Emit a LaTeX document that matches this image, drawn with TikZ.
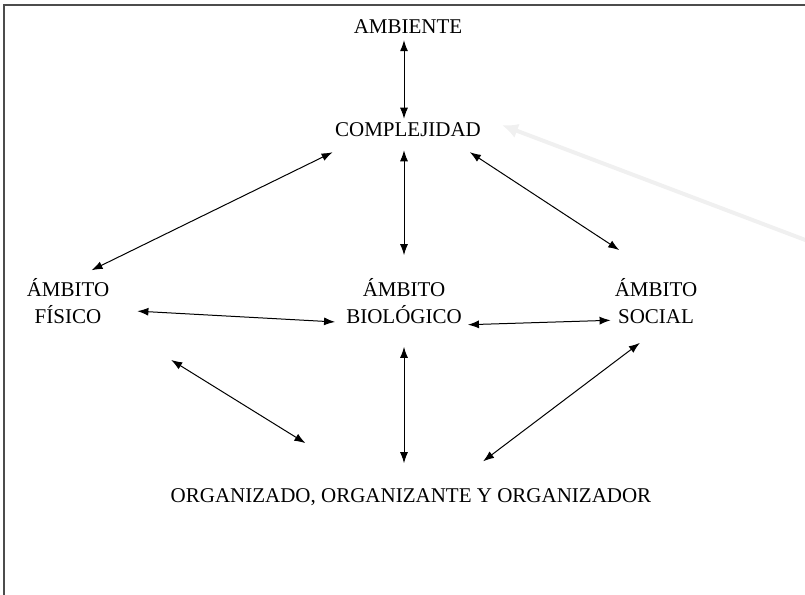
\documentclass[tikz,border=0pt]{standalone}
\usepackage{fontspec}
\setmainfont{Liberation Serif}
\usetikzlibrary{arrows.meta}
\begin{document}
\begin{tikzpicture}[x=1pt, y=-1pt,
        concept/.style={font=\fontsize{21}{27}\selectfont, align=center, inner sep=4pt},
        link/.style={{Latex[length=11pt,width=8pt]}-{Latex[length=11pt,width=8pt]}, line width=1pt},
        hint/.style={-{Latex[length=16pt,width=15pt]}, line width=4pt, black!6},
    ]
    \useasboundingbox (0,0) rectangle (805,594);
    \draw[line width=2pt, black!70] (4,600) -- (4,5) -- (812,5);

    \node[concept] (amb) at (408,27) {AMBIENTE};
    \node[concept] (comp) at (408,130) {COMPLEJIDAD};
    \node[concept] (fis) at (68,301) {ÁMBITO\\FÍSICO};
    \node[concept] (bio) at (404,301) {ÁMBITO\\BIOLÓGICO};
    \node[concept] (soc) at (656,301) {ÁMBITO\\SOCIAL};
    \node[concept] (org) at (411,497) {ORGANIZADO, ORGANIZANTE Y ORGANIZADOR};
    \coordinate (edge) at (808,241);

    % light arrow coming from the right margin
    \draw[hint, shorten >=18pt] (edge) -- (comp.north east);

    \draw[link, shorten <=2pt] (bio.north |- amb.south) -- (bio.north |- comp.north);
    \draw[link, shorten <=25pt, shorten >=9pt] (comp.192) -- (fis.60);
    \draw[link, shorten <=9pt, shorten >=19pt] (bio.north |- comp.south) -- (bio.north);
    \draw[link, shorten <=20pt, shorten >=44pt] (comp.-14) -- (soc.north);

    \draw[link, shorten <=24pt, shorten >=7pt] (fis.-11) -- (bio.199);
    \draw[link, shorten <=2pt] (bio.-21) -- (soc.203);

    \draw[link, shorten <=68pt, shorten >=78pt] (fis.-27) -- (org.162);
    \draw[link, shorten <=19pt, shorten >=21pt] (bio.south) -- (bio.south |- org.north);
    \draw[link, shorten <=25pt, shorten >=38pt] (soc.-82) -- (org.17);
\end{tikzpicture}
\end{document}
